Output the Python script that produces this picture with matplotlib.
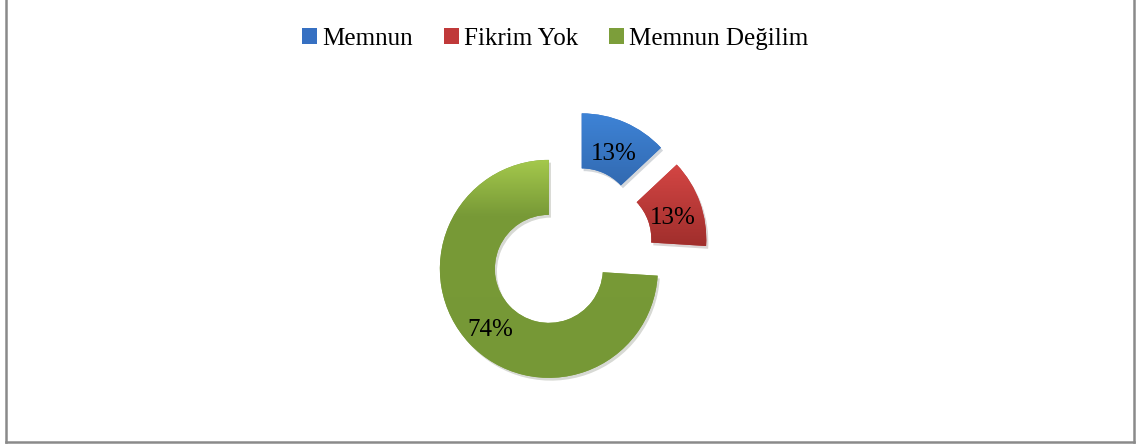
import matplotlib
matplotlib.use("Agg")
import matplotlib.pyplot as plt
import matplotlib.patheffects as pe
from matplotlib.colors import LinearSegmentedColormap
from matplotlib.lines import Line2D
from matplotlib.patches import Patch
import numpy as np

plt.rcParams['font.family'] = ['Liberation Serif', 'DejaVu Serif']

# anket sonuclari
kategoriler = ['Memnun', 'Fikrim Yok', 'Memnun Değilim']
yuzdeler = [13, 13, 74]
renkler = ['#3670c2', '#c0393a', '#7c9e3a']
# dilimler icin gradyan duraklari (konum, renk)
gradyan = [
    [(0, '#3e83d6'), (1, '#2c5d9e')],
    [(0, '#d44644'), (1, '#a02e2c')],
    [(0, '#a4c84c'), (0.25, '#789a37'), (1, '#769836')],
]

W, H = 1145, 446
fig = plt.figure(figsize=(W / 100, H / 100), dpi=100)
ax = fig.add_axes([0, 0, 1, 1])

r = 109
wedges, texts, autotexts = ax.pie(
    yuzdeler, colors=renkler, explode=[29] * 3, startangle=90,
    counterclock=False, center=(570, H - 249), radius=r,
    wedgeprops=dict(width=55, linewidth=0),
    autopct='%1.0f%%', pctdistance=0.74,
    textprops=dict(fontsize=18, color='black'))

for i, (w, durak) in enumerate(zip(wedges, gradyan)):
    w.set_path_effects([pe.SimplePatchShadow(offset=(1.5, -2), alpha=0.18),
                        pe.Normal()])
    v = w.get_path().vertices
    x0, x1 = v[:, 0].min(), v[:, 0].max()
    y0, y1 = v[:, 1].min(), v[:, 1].max()
    cmap = LinearSegmentedColormap.from_list('g%d' % i, durak)
    grad = np.linspace(0, 1, 256).reshape(-1, 1)
    im = ax.imshow(grad, cmap=cmap, extent=(x0, x1, y0, y1), origin='upper',
                   aspect='auto', zorder=w.get_zorder() + 0.1, interpolation='bilinear')
    im.set_clip_path(w)

# yuzde etiketlerini biraz asagi al
for t in autotexts:
    x, y = t.get_position()
    t.set_position((x, y - 6))
    t.set_zorder(5)

ax.set_xlim(0, W)
ax.set_ylim(0, H)
ax.axis('off')

handles = [Patch(facecolor=c, edgecolor='none') for c in renkler]
fig.legend(handles, kategoriler, loc='center', bbox_to_anchor=(555 / W, 1 - 39 / H),
           ncol=3, frameon=False, fontsize=18, handlelength=0.6, handleheight=0.6,
           handletextpad=0.2, columnspacing=1.25, borderaxespad=0)

# cerceve
for xs, ys in [((5.5, 5.5), (0, 442)), ((5.5, 1134), (442, 442)), ((1134, 1134), (442, 0))]:
    fig.add_artist(Line2D([x / W for x in xs], [1 - y / H for y in ys],
                          transform=fig.transFigure, color='#8a8a8a', linewidth=1.8))

fig.savefig('out.png', dpi=100)
